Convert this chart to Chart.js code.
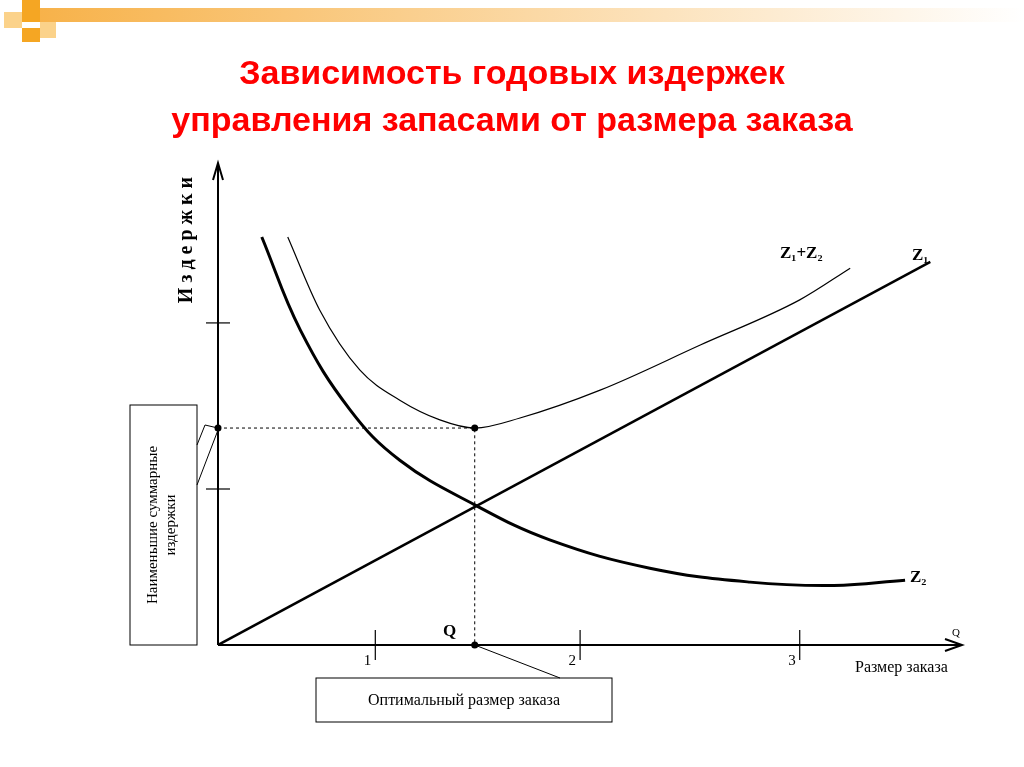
<!DOCTYPE html>
<html><head><meta charset="utf-8">
<script src="https://cdn.jsdelivr.net/npm/chart.js@4/dist/chart.umd.min.js"></script>
<style>
html,body{margin:0;padding:0;background:#fff;}
#wrap{position:relative;width:1024px;height:767px;}
canvas{position:absolute;left:0;top:0;}
</style></head><body>
<div id="wrap"><canvas id="c" width="1024" height="767"></canvas></div>
<script>
const z1 = [{x:0,y:0},{x:9.6,y:7.98}];
const z2 = [{x:0.59,y:8.5},{x:1.11,y:6.56},{x:1.78,y:4.9},{x:2.45,y:3.85},{x:3.46,y:2.92},{x:4.47,y:2.19},{x:5.82,y:1.6},{x:7.17,y:1.31},{x:8.3,y:1.24},{x:9.26,y:1.35}];
const zSum = [{x:0.94,y:8.5},{x:1.37,y:6.98},{x:1.91,y:5.73},{x:2.45,y:5.1},{x:2.99,y:4.69},{x:3.46,y:4.52},{x:4.07,y:4.73},{x:5.15,y:5.31},{x:6.5,y:6.25},{x:7.84,y:7.19},{x:8.52,y:7.85}];
const optimum = {x:3.46,y:4.52};
const xTicks = [{x:2.12,label:'1'},{x:4.88,label:'2'},{x:7.84,label:'3'}];
const yTicks = [6.71,3.25];

const deco = {
  id:'deco',
  afterDraw(ch){
    const c=ch.ctx, sx=ch.scales.x, sy=ch.scales.y;
    const X=v=>sx.getPixelForValue(v), Y=v=>sy.getPixelForValue(v);
    c.save();
    const g=c.createLinearGradient(40,0,1024,0);
    g.addColorStop(0,'#f7b24a');g.addColorStop(1,'#ffffff');
    c.fillStyle=g;c.fillRect(40,8,984,14);
    c.fillStyle='#f5a623';c.fillRect(22,0,18,22);
    c.fillStyle='#fbd28a';c.fillRect(4,12,18,16);c.fillRect(40,22,16,16);
    c.fillStyle='#f5a623';c.fillRect(22,28,18,14);
    c.fillStyle='#ff0000';c.font='bold 34px "Liberation Sans", Arial';c.textAlign='center';c.textBaseline='alphabetic';
    c.fillText('Зависимость годовых издержек',512,84);
    c.fillText('управления запасами от размера заказа',512,131);
    c.strokeStyle='#000';c.fillStyle='#000';
    const ox=X(0), oy=Y(0);
    c.lineWidth=2;
    c.beginPath();c.moveTo(ox,oy);c.lineTo(ox,165);c.stroke();
    c.beginPath();c.moveTo(ox,oy);c.lineTo(960,oy);c.stroke();
    c.beginPath();c.moveTo(ox-5,180);c.lineTo(ox,163);c.lineTo(ox+5,180);c.stroke();
    c.beginPath();c.moveTo(945,oy-6);c.lineTo(962,oy);c.lineTo(945,oy+6);c.stroke();
    c.lineWidth=1.2;
    yTicks.forEach(v=>{c.beginPath();c.moveTo(ox-12,Y(v));c.lineTo(ox+12,Y(v));c.stroke();});
    c.font='15px "Liberation Serif", serif';
    xTicks.forEach(t=>{c.beginPath();c.moveTo(X(t.x),oy-15);c.lineTo(X(t.x),oy+15);c.stroke();
      c.textAlign='right';c.fillText(t.label,X(t.x)-4,oy+20);});
    c.setLineDash([3,3]);c.lineWidth=1;
    c.beginPath();c.moveTo(ox,Y(optimum.y));c.lineTo(X(optimum.x),Y(optimum.y));c.lineTo(X(optimum.x),oy);c.stroke();
    c.setLineDash([]);
    [[X(optimum.x),Y(optimum.y)],[ox,Y(optimum.y)],[X(optimum.x),oy]].forEach(p=>{c.beginPath();c.arc(p[0],p[1],3.5,0,7);c.fill();});
    c.font='bold 17px "Liberation Serif", serif';c.textAlign='left';
    c.fillText('Z\u2081+Z\u2082',780,258);c.fillText('Z\u2081',912,260);c.fillText('Z\u2082',910,582);
    c.fillText('Q',443,636);
    c.font='11px "Liberation Serif", serif';c.fillText('Q',952,636);
    c.font='16px "Liberation Serif", serif';c.fillText('Размер заказа',855,672);
    c.save();c.translate(192,240);c.rotate(-Math.PI/2);c.font='bold 20px "Liberation Serif", serif';c.textAlign='center';
    c.fillText('И з д е р ж к и',0,0);c.restore();
    c.lineWidth=1;c.strokeRect(130,405,67,240);
    c.save();c.translate(163,525);c.rotate(-Math.PI/2);c.font='15px "Liberation Serif", serif';c.textAlign='center';
    c.fillText('Наименьшие суммарные',0,-6);c.fillText('издержки',0,12);c.restore();
    c.beginPath();c.moveTo(197,445);c.lineTo(205,425);c.lineTo(ox,Y(optimum.y));c.stroke();
    c.beginPath();c.moveTo(197,485);c.lineTo(ox,Y(optimum.y)+2);c.stroke();
    c.strokeRect(316,678,296,44);
    c.font='16px "Liberation Serif", serif';c.textAlign='center';c.fillText('Оптимальный размер заказа',464,705);
    c.beginPath();c.moveTo(X(optimum.x),oy);c.lineTo(560,678);c.stroke();
    c.restore();
  }
};

new Chart(document.getElementById('c'),{
  type:'line',
  data:{datasets:[
    {data:z1,borderColor:'#000',borderWidth:2.5,pointRadius:0,tension:0},
    {data:z2,borderColor:'#000',borderWidth:3,pointRadius:0,tension:0.4},
    {data:zSum,borderColor:'#000',borderWidth:1.2,pointRadius:0,tension:0.4,cubicInterpolationMode:'monotone'}
  ]},
  options:{responsive:false,animation:false,
    layout:{padding:{left:218,right:64,top:165,bottom:122}},
    plugins:{legend:{display:false},tooltip:{enabled:false}},
    scales:{x:{type:'linear',min:0,max:10,display:false},y:{min:0,max:10,display:false}}
  },
  plugins:[deco]
});
</script></body></html>
